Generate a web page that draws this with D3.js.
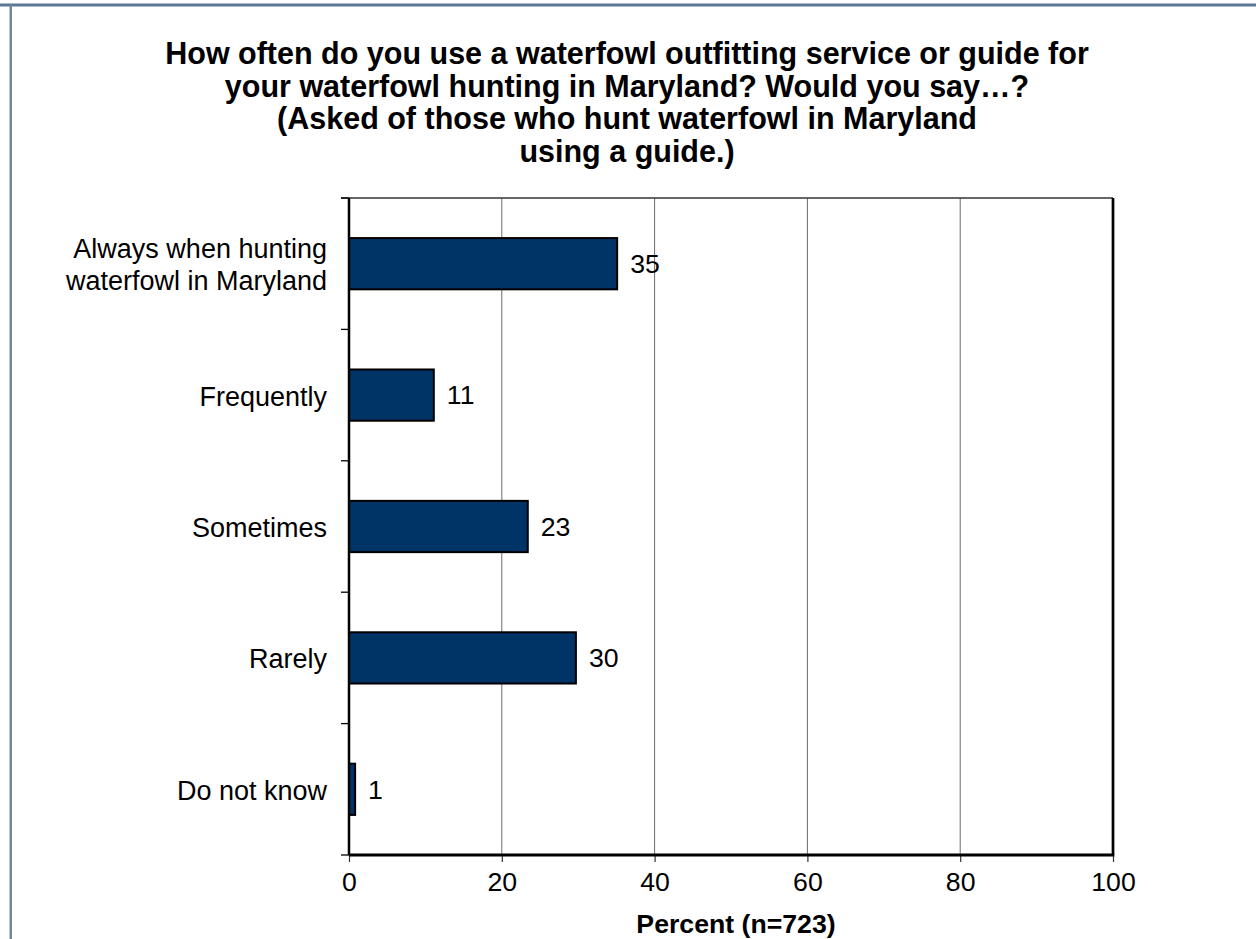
<!DOCTYPE html>
<html>
<head>
<meta charset="utf-8">
<script src="https://cdn.jsdelivr.net/npm/d3@7"></script>
<style>
  html, body { margin: 0; padding: 0; background: #fff; }
  svg { display: block; font-family: "Liberation Sans", Arial, sans-serif; }
</style>
</head>
<body>
<div id="chart"></div>
<script>
// chart data
var titleLines = [
    "How often do you use a waterfowl outfitting service or guide for",
    "your waterfowl hunting in Maryland? Would you say\u2026?",
    "(Asked of those who hunt waterfowl in Maryland",
    "using a guide.)"
];
var categories = ["Always when hunting\nwaterfowl in Maryland", "Frequently", "Sometimes", "Rarely", "Do not know"];
var values = [35.1, 11.1, 23.4, 29.7, 0.8];
var valueLabels = ["35", "11", "23", "30", "1"];
var xTicks = [0, 20, 40, 60, 80, 100];
var xTitle = "Percent (n=723)";

var W = 1256, H = 939;
var margin = { top: 198, right: 143, bottom: 84, left: 349 },
    width = W - margin.left - margin.right,
    height = H - margin.top - margin.bottom;

var barColor = "#003366";
var frameColor = "#5f7896";

var svg = d3.select("#chart")
    .append("svg")
    .attr("width", W)
    .attr("height", H);

// page frame (top rule + left rule)
svg.append("rect")
    .attr("x", 0).attr("y", 3.5).attr("width", W).attr("height", 3)
    .attr("fill", frameColor);
svg.append("rect")
    .attr("x", 0).attr("y", 3).attr("width", W).attr("height", 1)
    .attr("fill", "#a9b8cb");
svg.append("rect")
    .attr("x", 9.5).attr("y", 5).attr("width", 2.5).attr("height", H)
    .attr("fill", "#6f87a5");

// title
svg.append("text")
    .attr("text-anchor", "middle")
    .style("font-weight", "bold")
    .style("font-size", "30.5px")
    .selectAll("tspan")
    .data(titleLines)
    .enter().append("tspan")
    .attr("x", 627)
    .attr("y", (d, i) => 64 + i * 32.7)
    .text(d => d);

var g = svg.append("g")
    .attr("transform", "translate(" + margin.left + "," + margin.top + ")");

var x = d3.scaleLinear()
    .domain([0, 100])
    .range([0, width]);
var y = d3.scaleBand()
    .domain(categories)
    .range([0, height])
    .paddingInner(0.61)
    .paddingOuter(0.305);
var step = y.step();

// gridlines
g.selectAll(".grid")
    .data(xTicks.slice(1, -1))
    .enter().append("line")
    .attr("class", "grid")
    .attr("x1", d => x(d)).attr("x2", d => x(d))
    .attr("y1", 0).attr("y2", height)
    .attr("stroke", "#6b6b6b")
    .attr("stroke-width", 1);

// top and right border
g.append("line")
    .attr("x1", -8).attr("x2", width)
    .attr("y1", 0).attr("y2", 0)
    .attr("stroke", "#333").attr("stroke-width", 1.3);
g.append("line")
    .attr("x1", width).attr("x2", width)
    .attr("y1", 0).attr("y2", height)
    .attr("stroke", "#000").attr("stroke-width", 2.7);

// bars
g.selectAll(".bar")
    .data(values)
    .enter().append("rect")
    .attr("class", "bar")
    .attr("x", x(0))
    .attr("y", (d, i) => y(categories[i]))
    .attr("width", d => x(d) - x(0))
    .attr("height", y.bandwidth())
    .attr("fill", barColor)
    .attr("stroke", "#000")
    .attr("stroke-width", 2);

// value labels
g.selectAll(".label")
    .data(values)
    .enter().append("text")
    .attr("class", "label")
    .attr("x", d => x(d) + 13)
    .attr("y", (d, i) => y(categories[i]) + y.bandwidth() / 2)
    .attr("dy", "0.35em")
    .style("font-size", "26.67px")
    .text((d, i) => valueLabels[i]);

// category axis (ticks at slot boundaries)
var bounds = d3.range(categories.length + 1).map(i => i * step);
g.selectAll(".ytick")
    .data(bounds)
    .enter().append("line")
    .attr("class", "ytick")
    .attr("x1", -8).attr("x2", 0)
    .attr("y1", d => d).attr("y2", d => d)
    .attr("stroke", "#000").attr("stroke-width", 1.3);
g.append("line")
    .attr("x1", 0).attr("x2", 0)
    .attr("y1", 0).attr("y2", height)
    .attr("stroke", "#000").attr("stroke-width", 2.5);

g.selectAll(".cat")
    .data(categories)
    .enter().append("text")
    .attr("class", "cat")
    .attr("text-anchor", "end")
    .style("font-size", "27px")
    .each(function (d) {
        var lines = d.split("\n");
        var cy = y(d) + y.bandwidth() / 2;
        d3.select(this).selectAll("tspan")
            .data(lines)
            .enter().append("tspan")
            .attr("x", -22)
            .attr("y", (l, i) => cy + 1 + (i - (lines.length - 1) / 2) * 32)
            .attr("dy", "0.35em")
            .text(l => l);
    });

// x axis
var xAxis = d3.axisBottom(x)
    .tickValues(xTicks)
    .tickSize(7)
    .tickPadding(10);
var xg = g.append("g")
    .attr("transform", "translate(0," + height + ")")
    .call(xAxis);
xg.select(".domain").remove();
xg.selectAll(".tick line").attr("stroke", "#333").attr("stroke-width", 1.2);
xg.selectAll(".tick text")
    .attr("fill", "#000")
    .style("font-family", "'Liberation Sans', Arial, sans-serif")
    .style("font-size", "26.67px");
g.append("line")
    .attr("x1", 0).attr("x2", width + 1.3)
    .attr("y1", height).attr("y2", height)
    .attr("stroke", "#000").attr("stroke-width", 3);

g.append("text")
    .attr("x", width / 2 + 5)
    .attr("y", height + 78)
    .attr("text-anchor", "middle")
    .style("font-weight", "bold")
    .style("font-size", "26.67px")
    .text(xTitle);
</script>
</body>
</html>
